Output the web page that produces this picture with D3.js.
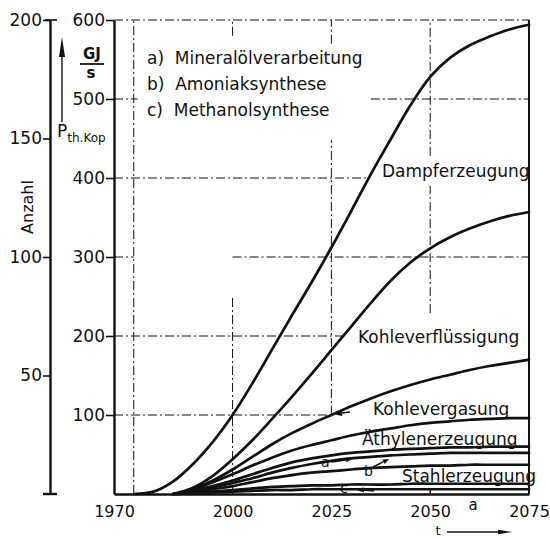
<!DOCTYPE html>
<html>
<head>
<meta charset="utf-8">
<script src="https://cdn.jsdelivr.net/npm/d3@7"></script>
<style>
  html, body { margin: 0; padding: 0; background: #fff; }
  svg { display: block; font-family: "DejaVu Sans", sans-serif; }
</style>
</head>
<body>
<svg id="chart" width="550" height="539"></svg>
<script>
// ── Daten (GJ/s) ─────────────────────────────────────────────────────────
const years = [1975, 1980, 1985, 1990, 1995, 2000, 2005, 2010, 2015, 2020, 2025,
               2030, 2035, 2040, 2045, 2050, 2055, 2060, 2065, 2070, 2075];

const dampferzeugung      = [0, 3, 16, 38, 66, 100, 140, 183, 226, 268, 312, 358, 405, 449, 492, 528, 552, 568, 579, 588, 594];
const kohleverfluessigung = [null, null, 0, 8, 23, 44, 68, 95, 123, 152, 182, 212, 242, 270, 293, 311, 325, 336, 345, 352, 357];
const kohlevergasung      = [null, null, 0, 6, 17, 31, 47, 63, 77, 89, 100, 111, 121, 130, 138, 145, 151, 157, 162, 166, 170];
const kurveD              = [null, null, 0, 6, 15, 25, 36, 46, 55, 62, 68, 74, 79, 83, 87, 90, 92, 94, 95, 96, 96];
const aethylenerzeugung   = [null, null, 0, 4, 10, 17, 25, 33, 40, 45, 49, 52, 54, 56, 57, 58, 59, 59, 60, 60, 60];
const kurveA              = [null, null, 0, 3, 8, 14, 20, 27, 33, 38, 42, 45, 47, 49, 50, 51, 52, 52, 52, 52, 52];
const kurveB              = [null, null, 0, 2, 6, 10, 15, 20, 24, 27, 29, 31, 33, 34, 35, 36, 36, 37, 37, 37, 37];
const stahlerzeugung      = [null, null, 0, 1, 3, 5, 7, 9, 10, 11, 11, 12, 12, 12, 13, 13, 13, 13, 13, 13, 13];
const kurveC              = [null, null, 0, 1, 2, 3, 4, 5, 5, 6, 6, 6, 6, 6, 6, 6, 6, 6, 6, 6, 6];

const allSeries = [dampferzeugung, kohleverfluessigung, kohlevergasung, kurveD,
                   aethylenerzeugung, kurveA, kurveB, stahlerzeugung, kurveC];

const xTicks     = [1970, 2000, 2025, 2050, 2075];
const powerTicks = [100, 200, 300, 400, 500, 600];
const countTicks = [50, 100, 150, 200];

const legendLines = ['a)  Mineralölverarbeitung', 'b)  Amoniaksynthese', 'c)  Methanolsynthese'];

// Gitterlinien (Abschnitte in Datenkoordinaten)
const hGrid = [
  { v: 100, from: 1970, to: 2025 },
  { v: 200, from: 1970, to: 2028 },
  { v: 300, from: 1970, to: 1975 }, { v: 300, from: 2000, to: 2075 },
  { v: 400, from: 1970, to: 2034 },
  { v: 500, from: 1970, to: 1976 }, { v: 500, from: 2035, to: 2075 },
  { v: 600, from: 1970, to: 2075 },
];
const vGrid = [
  { t: 1975, from: 0, to: 600 },
  { t: 2000, from: 0, to: 250 }, { t: 2000, from: 580, to: 600 },
  { t: 2025, from: 100, to: 448 }, { t: 2025, from: 570, to: 600 },
  { t: 2050, from: 229, to: 390 }, { t: 2050, from: 428, to: 600 },
];

// ── Skalen ──────────────────────────────────────────────────────────────
const x      = d3.scaleLinear().domain([1970, 2075]).range([114, 529]);
const y      = d3.scaleLinear().domain([0, 600]).range([494, 20]);
const yCount = d3.scaleLinear().domain([0, 200]).range([494, 20]);

const svg = d3.select('#chart');
const INK = '#111';

// ── Gitter ──────────────────────────────────────────────────────────────
const grid = svg.append('g')
  .attr('stroke', INK).attr('stroke-width', 1)
  .attr('stroke-dasharray', '9,3,2,3').attr('fill', 'none');

grid.selectAll('line.h').data(hGrid).join('line').attr('class', 'h')
  .attr('x1', d => x(d.from)).attr('x2', d => x(d.to))
  .attr('y1', d => y(d.v)).attr('y2', d => y(d.v));

grid.selectAll('line.v').data(vGrid).join('line').attr('class', 'v')
  .attr('x1', d => x(d.t)).attr('x2', d => x(d.t))
  .attr('y1', d => y(d.from)).attr('y2', d => y(d.to));

// ── Achsen ──────────────────────────────────────────────────────────────
function styleAxis(g, fs) {
  g.attr('font-family', '"DejaVu Sans", sans-serif').attr('font-size', fs);
  g.select('.domain').attr('stroke', INK).attr('stroke-width', 2.4);
  g.selectAll('.tick line').attr('stroke', INK).attr('stroke-width', 1.6);
  g.selectAll('.tick text').attr('fill', INK);
}

// Anzahl
svg.append('g').attr('transform', 'translate(50,0)')
  .call(d3.axisLeft(yCount).tickValues(countTicks).tickSize(7).tickSizeOuter(0).tickPadding(1))
  .call(g => styleAxis(g, 17));
svg.append('line').attr('x1', 45).attr('x2', 57).attr('y1', yCount(200)).attr('y2', yCount(200))
  .attr('stroke', INK).attr('stroke-width', 1.6);
svg.append('line').attr('x1', 43).attr('x2', 57).attr('y1', yCount(0)).attr('y2', yCount(0))
  .attr('stroke', INK).attr('stroke-width', 2.4);

svg.append('text')
  .attr('transform', 'translate(33,207) rotate(-90)')
  .attr('text-anchor', 'middle').attr('font-size', 16).attr('fill', INK)
  .text('Anzahl');

// Leistung GJ/s
svg.append('g').attr('transform', `translate(${x(1970)},0)`)
  .call(d3.axisLeft(y).tickValues(powerTicks).tickSize(8).tickSizeOuter(0).tickPadding(1))
  .call(g => styleAxis(g, 17));

// Zeitachse
svg.append('g').attr('transform', `translate(0,${y(0)})`)
  .call(d3.axisBottom(x).tickValues(xTicks).tickFormat(d3.format('d'))
    .tickSize(0).tickSizeOuter(0).tickPadding(12))
  .call(g => styleAxis(g, 16))
  .call(g => g.selectAll('.tick line').remove());
svg.append('line').attr('x1', x(2050)).attr('x2', x(2050)).attr('y1', y(0)).attr('y2', y(0) - 6)
  .attr('stroke', INK).attr('stroke-width', 1.6);

// rechter Rahmen
svg.append('line').attr('x1', x(2075)).attr('x2', x(2075)).attr('y1', y(600)).attr('y2', y(0))
  .attr('stroke', INK).attr('stroke-width', 2);

// ── Kurven ──────────────────────────────────────────────────────────────
const line = d3.line()
  .defined(d => d[1] != null)
  .x(d => x(d[0])).y(d => y(d[1]))
  .curve(d3.curveCatmullRom.alpha(0.5));

svg.append('g').selectAll('path')
  .data(allSeries.map(s => years.map((yr, i) => [yr, s[i]])))
  .join('path')
  .attr('d', line)
  .attr('fill', 'none').attr('stroke', INK).attr('stroke-width', 2.7)
  .attr('stroke-linejoin', 'round').attr('stroke-linecap', 'round');

// ── Beschriftung ────────────────────────────────────────────────────────
function arrow(x1, y1, x2, y2, head = 8, w = 3) {
  const a = Math.atan2(y2 - y1, x2 - x1);
  const bx = x2 - head * Math.cos(a), by = y2 - head * Math.sin(a);
  const nx = -Math.sin(a) * w, ny = Math.cos(a) * w;
  svg.append('line').attr('x1', x1).attr('y1', y1).attr('x2', bx).attr('y2', by)
    .attr('stroke', INK).attr('stroke-width', 1.4);
  svg.append('path')
    .attr('d', `M${x2},${y2}L${bx + nx},${by + ny}L${bx - nx},${by - ny}Z`)
    .attr('fill', INK);
}

const labels = [
  { t: 'Dampferzeugung',     x: 382, y: 177 },
  { t: 'Kohleverflüssigung', x: 358, y: 343 },
  { t: 'Kohlevergasung',     x: 373, y: 415 },
  { t: 'Äthylenerzeugung',   x: 362, y: 445 },
  { t: 'Stahlerzeugung',     x: 402, y: 482 },
];
svg.append('g').selectAll('text').data(labels).join('text')
  .attr('x', d => d.x).attr('y', d => d.y)
  .attr('font-size', 17).attr('fill', INK)
  .text(d => d.t);

// kleine Kennbuchstaben a, b, c mit Pfeilen
svg.append('text').attr('x', 321).attr('y', 467).attr('font-size', 14).attr('fill', INK).text('a');
arrow(332, 462, 352, 459, 6, 2.5);
svg.append('text').attr('x', 364).attr('y', 476).attr('font-size', 14).attr('fill', INK).text('b');
arrow(373, 467, 389, 459, 6, 2.5);
svg.append('text').attr('x', 340).attr('y', 493).attr('font-size', 14).attr('fill', INK).text('c');
arrow(374, 491, 354, 489, 10, 2.5);
arrow(350, 412, 333, 414, 9, 3);

// Legende
svg.append('g').selectAll('text').data(legendLines).join('text')
  .attr('x', 147).attr('y', (d, i) => 64 + i * 26)
  .attr('font-size', 17).attr('fill', INK)
  .attr('xml:space', 'preserve')
  .text(d => d);

// Einheit GJ/s und P_th.Kop
svg.append('text').attr('x', 92).attr('y', 59).attr('text-anchor', 'middle')
  .attr('font-size', 15).attr('font-weight', 'bold').attr('fill', INK).text('GJ');
svg.append('line').attr('x1', 80).attr('x2', 104).attr('y1', 64).attr('y2', 64)
  .attr('stroke', INK).attr('stroke-width', 1.8);
svg.append('text').attr('x', 91).attr('y', 78).attr('text-anchor', 'middle')
  .attr('font-size', 15).attr('font-weight', 'bold').attr('fill', INK).text('s');
arrow(62, 122, 62, 37, 20, 3);
const pt = svg.append('text').attr('x', 57).attr('y', 137).attr('font-size', 17).attr('fill', INK);
pt.append('tspan').text('P');
pt.append('tspan').attr('font-size', 12).attr('dy', 5).text('th.Kop');

// Zeit-Einheit
svg.append('text').attr('x', 473).attr('y', 510).attr('text-anchor', 'middle')
  .attr('font-size', 15).attr('fill', INK).text('a');
svg.append('text').attr('x', 438).attr('y', 535).attr('text-anchor', 'middle')
  .attr('font-size', 13).attr('fill', INK).text('t');
arrow(447, 532, 512, 532, 14, 2.2);
</script>
</body>
</html>
